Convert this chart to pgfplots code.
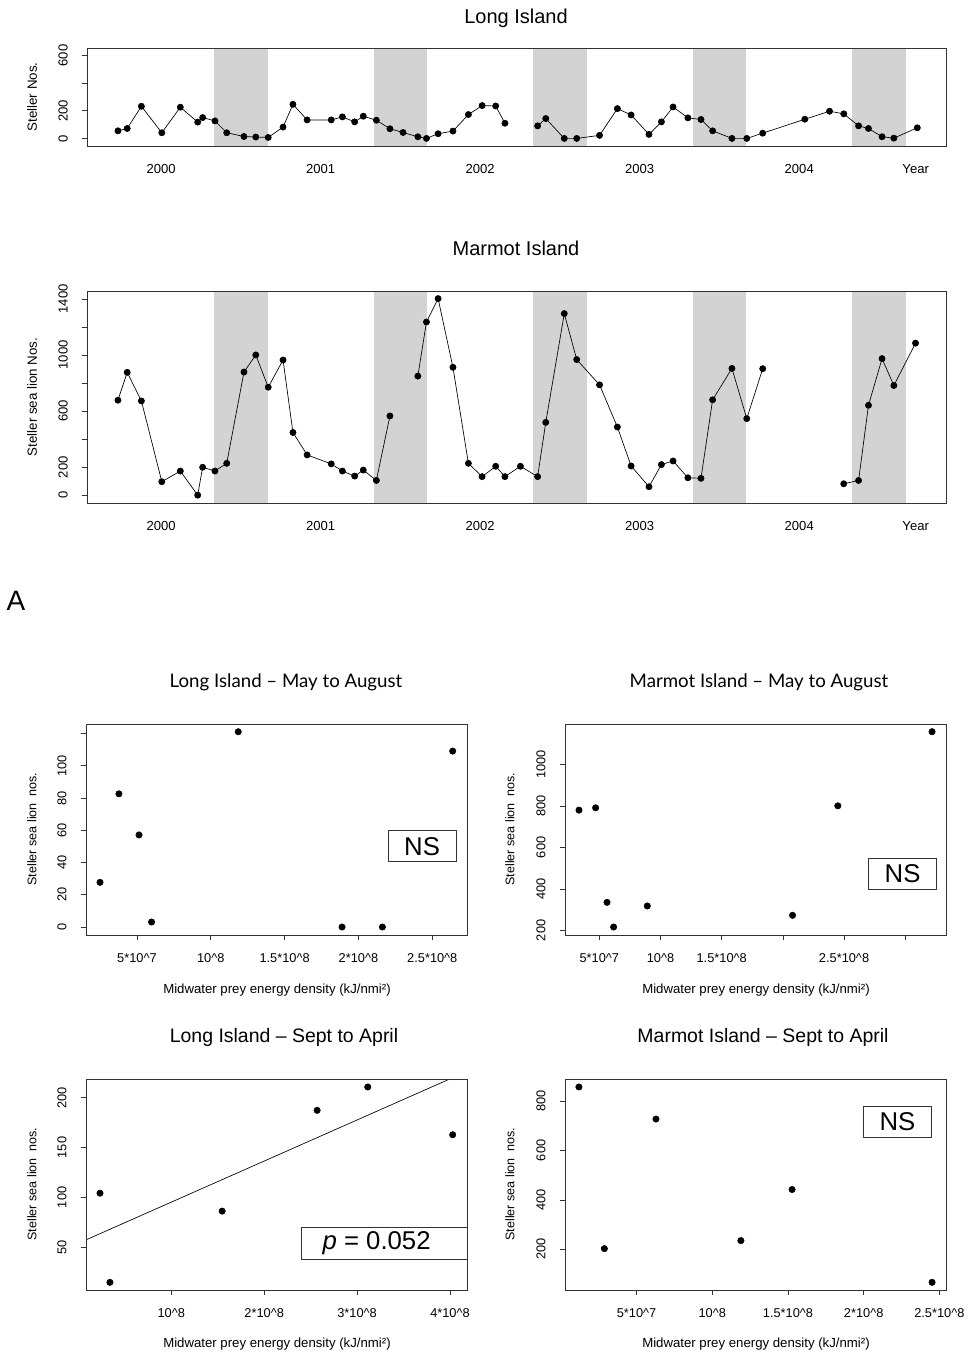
\documentclass[border=0pt]{standalone}
\usepackage{fontspec}
\setmainfont{Liberation Sans}
\newfontfamily\humfont{Lato}
\usepackage{pgfplots}
\pgfplotsset{compat=1.18}
\definecolor{band}{RGB}{211,211,211}
\definecolor{frame}{RGB}{50,50,50}
\newcommand\fs[1]{\fontsize{#1}{#1}\selectfont}

\pgfplotsset{
  base/.style={scale only axis, axis on top,
    axis line style={frame, line width=0.6pt},
    tick style={frame, line width=0.5pt}, tick align=outside, major tick length=4pt,
    xtick pos=lower, ytick pos=left, minor tick num=0,
    /pgf/number format/assume math mode=true, /pgf/number format/1000 sep={},
    tick label style={font=\fs{9.6}},
    xticklabel style={anchor=center, yshift=-13.5pt},
    yticklabel style={anchor=center, xshift=-14pt, rotate=90}},
  ts/.style={base, width=644.25pt, xmin=1999.535, xmax=2004.92,
    xtick={2000,2001,2002,2003,2004,2004.73},
    xticklabels={2000,2001,2002,2003,2004,Year},
    x tick style={draw=none}, tick label style={font=\fs{9.8}}},
  sc/.style={base, width=285.75pt, height=158.25pt},
  dots/.style={only marks, mark=*, mark size=2.4pt, black},
  seal/.style={black, line width=0.5pt, mark=*, mark size=2.3pt, mark options={fill=black}, unbounded coords=jump},
}
\tikzset{nsbox/.style={draw=frame, line width=0.6pt, minimum width=51pt, minimum height=23.5pt, inner sep=0pt, font=\fs{19.3}}}

\begin{document}
\begin{tikzpicture}[x=0.75pt, y=-0.75pt]
\path[use as bounding box] (0,0) rectangle (969,1354);

% ---------------- Long Island time series
\begin{axis}[ts, at={({87*0.75pt},{-146*0.75pt})}, anchor=south west, height=73.5pt,
  ymin=-55, ymax=655, ytick={0,200,400,600}, yticklabels={0,200,,600}]
\foreach \y in {2000,...,2004}{
  \addplot[fill=band, draw=none] coordinates {(\y.333,-100) (\y.333,800) (\y.667,800) (\y.667,-100)};
}
\addplot[seal] coordinates {
(1999.729,55) (1999.787,72) (1999.876,233) (2000.004,41) (2000.120,226) (2000.229,118)
(2000.260,151) (2000.337,127) (2000.411,41) (2000.519,14) (2000.593,10) (2000.671,7)
(2000.764,82) (2000.826,247) (2000.915,134) (2001.066,134) (2001.136,156) (2001.213,120)
(2001.267,161) (2001.349,132) (2001.434,70) (2001.516,43) (2001.609,12) (2001.663,0)
(2001.736,34) (2001.829,53) (2001.926,173) (2002.012,238) (2002.097,235) (2002.155,110)
(2002.25,nan)
(2002.360,91) (2002.411,144) (2002.527,0) (2002.605,0) (2002.748,22) (2002.860,216)
(2002.946,170) (2003.058,29) (2003.136,120) (2003.209,228) (2003.302,149) (2003.384,137)
(2003.457,55) (2003.578,0) (2003.671,0) (2003.771,38) (2004.035,139) (2004.190,197)
(2004.279,178) (2004.372,91) (2004.434,72) (2004.519,12) (2004.593,2) (2004.740,77)};
\end{axis}
\node[font=\fs{15}] at (516,18) {Long Island};
\node[font=\fs{10}, rotate=90] at (32,97) {Steller Nos.};

% ---------------- Marmot Island time series
\begin{axis}[ts, at={({87*0.75pt},{-503*0.75pt})}, anchor=south west, height=159pt,
  ymin=-56, ymax=1456, ytick={0,200,...,1400}, yticklabels={0,200,,600,,1000,,1400}]
\foreach \y in {2000,...,2004}{
  \addplot[fill=band, draw=none] coordinates {(\y.333,-100) (\y.333,1600) (\y.667,1600) (\y.667,-100)};
}
\addplot[seal] coordinates {
(1999.729,677) (1999.787,876) (1999.876,672) (2000.004,96) (2000.120,172) (2000.229,0)
(2000.260,199) (2000.337,172) (2000.411,227) (2000.519,878) (2000.593,1000) (2000.671,770)
(2000.764,964) (2000.826,447) (2000.915,287) (2001.066,223) (2001.136,172) (2001.213,136)
(2001.267,179) (2001.349,105) (2001.434,565)
(2001.52,nan)
(2001.609,849) (2001.663,1235) (2001.736,1402) (2001.829,912) (2001.926,227) (2002.012,132)
(2002.097,206) (2002.155,132) (2002.252,206) (2002.360,132) (2002.411,519) (2002.527,1295)
(2002.605,967) (2002.748,787) (2002.860,486) (2002.946,208) (2003.058,60) (2003.136,218)
(2003.209,244) (2003.302,124) (2003.384,120) (2003.457,680) (2003.578,904) (2003.671,546)
(2003.771,902)
(2004.0,nan)
(2004.279,81) (2004.372,105) (2004.434,641) (2004.519,974) (2004.593,782) (2004.729,1084)};
\end{axis}
\node[font=\fs{15}] at (516,248) {Marmot Island};
\node[font=\fs{10}, rotate=90] at (32,397) {Steller sea lion Nos.};

\node[font=\fs{21}] at (16,601) {A};

% ---------------- Long Island May-Aug
\begin{axis}[sc, at={({86*0.75pt},{-935*0.75pt})}, anchor=south west,
  xmin=0.155, xmax=2.735, ymin=-4.97, ymax=125.9,
  xtick={0.5,1,1.5,2,2.5},
  xticklabels={{5*10\textasciicircum 7},{10\textasciicircum 8},{1.5*10\textasciicircum 8},{2*10\textasciicircum 8},{2.5*10\textasciicircum 8}},
  ytick={0,20,...,120}, yticklabels={0,20,40,60,80,100,}]
\addplot[dots] coordinates {(0.250,27.7) (0.378,82.6) (0.514,57.1) (0.599,3.1) (1.186,121.1) (1.889,0) (2.162,0) (2.638,109.1)};
\node[nsbox] at (axis cs:2.4306,50.1) {NS};
\end{axis}
\node[font=\humfont\fs{14}] at (286,682) {Long Island – May to August};
\node[font=\fs{9.4}, rotate=90] at (32,829) {Steller sea lion\ \ nos.};
\node[font=\fs{9.9}] at (277,990) {Midwater prey energy density (kJ/nmi²)};

% ---------------- Marmot Island May-Aug
\begin{axis}[sc, at={({565*0.75pt},{-935*0.75pt})}, anchor=south west,
  xmin=0.2197, xmax=3.333, ymin=177.5, ymax=1194.8,
  xtick={0.5,1,1.5,2,2.5,3},
  xticklabels={{5*10\textasciicircum 7},{10\textasciicircum 8},{1.5*10\textasciicircum 8},,{2.5*10\textasciicircum 8},},
  ytick={200,400,...,1000}, yticklabels={200,400,600,800,1000}]
\addplot[dots] coordinates {(0.334,779.5) (0.470,790.7) (0.563,335) (0.617,216) (0.892,317.5) (2.079,272.4) (2.449,800.4) (3.219,1157.7)};
\node[nsbox] at (axis cs:2.978,473) {NS};
\end{axis}
\node[font=\humfont\fs{14}] at (759,682) {Marmot Island – May to August};
\node[font=\fs{9.4}, rotate=90] at (510,829) {Steller sea lion\ \ nos.};
\node[font=\fs{9.9}] at (756,990) {Midwater prey energy density (kJ/nmi²)};

% ---------------- Long Island Sept-April
\begin{axis}[sc, at={({86*0.75pt},{-1290*0.75pt})}, anchor=south west,
  xmin=0.0824, xmax=4.183, ymin=7.1, ymax=218.7,
  xtick={1,2,3,4},
  xticklabels={{10\textasciicircum 8},{2*10\textasciicircum 8},{3*10\textasciicircum 8},{4*10\textasciicircum 8}},
  ytick={50,100,150,200}, yticklabels={50,100,150,200}]
\addplot[black, line width=0.5pt] coordinates {(0,54) (4.3,231.2)};
\addplot[dots] coordinates {(0.233,104.2) (0.340,14.8) (1.548,86.2) (2.570,187.3) (3.115,210.7) (4.029,162.8)};
\draw[frame, line width=0.6pt, fill=white] (axis cs:2.398,38.3) rectangle (axis cs:4.183,70.1);
\node[font=\fs{19.3}] at (axis cs:3.21,54) {\textit{p} = 0.052};
\end{axis}
\node[font=\fs{14.6}] at (284,1037) {Long Island – Sept to April};
\node[font=\fs{9.4}, rotate=90] at (32,1184) {Steller sea lion\ \ nos.};
\node[font=\fs{9.9}] at (277,1344) {Midwater prey energy density (kJ/nmi²)};

% ---------------- Marmot Island Sept-April
\begin{axis}[sc, at={({565*0.75pt},{-1290*0.75pt})}, anchor=south west,
  xmin=0.027, xmax=2.544, ymin=35.1, ymax=889,
  xtick={0.5,1,1.5,2,2.5},
  xticklabels={{5*10\textasciicircum 7},{10\textasciicircum 8},{1.5*10\textasciicircum 8},{2*10\textasciicircum 8},{2.5*10\textasciicircum 8}},
  ytick={200,400,600,800}, yticklabels={200,400,600,800}]
\addplot[dots] coordinates {(0.119,856.8) (0.287,202.7) (0.628,727) (1.189,235.1) (1.527,441.9) (2.452,66.2)};
\node[nsbox] at (axis cs:2.2235,715.5) {NS};
\end{axis}
\node[font=\fs{14.6}] at (763,1037) {Marmot Island – Sept to April};
\node[font=\fs{9.4}, rotate=90] at (510,1184) {Steller sea lion\ \ nos.};
\node[font=\fs{9.9}] at (756,1344) {Midwater prey energy density (kJ/nmi²)};
\end{tikzpicture}
\end{document}
